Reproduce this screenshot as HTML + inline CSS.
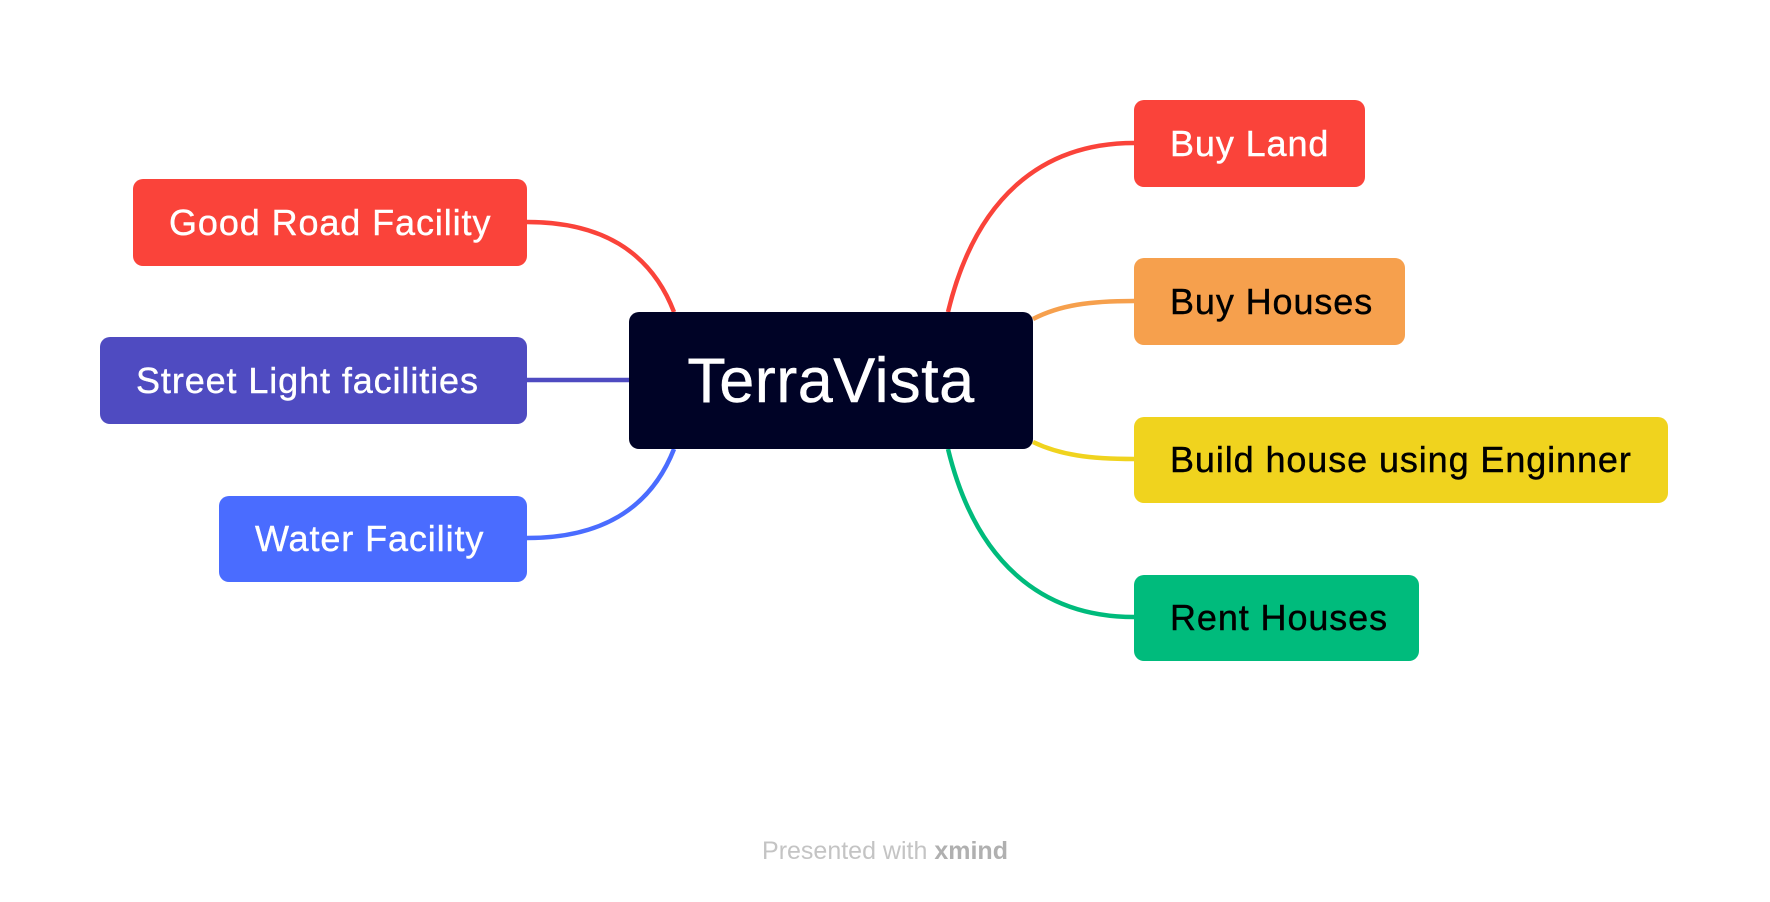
<!DOCTYPE html>
<html><head><style>
body{margin:0;width:1770px;height:902px;background:#fff;position:relative;overflow:hidden;font-family:"Liberation Sans",sans-serif}
.n{position:absolute;border-radius:10px;box-sizing:border-box;display:flex;align-items:center;font-size:36px;letter-spacing:0.9px;padding-left:36px;white-space:nowrap;-webkit-text-stroke:0.4px currentColor}
svg{position:absolute;left:0;top:0}
</style></head><body>
<svg width="1770" height="902" fill="none" stroke-width="4.5">
<path d="M527 222 C600 222 650 250 674 312" stroke="#fa433a"/>
<path d="M527 380 L629 380" stroke="#4f4bc1"/>
<path d="M527 538 C600 538 650 510 674 449" stroke="#4a6cff"/>
<path d="M948 312 C975 200 1040 143 1134 143" stroke="#fa433a"/>
<path d="M1033 319 C1060 305 1090 301 1134 301" stroke="#f6a04d"/>
<path d="M1033 442 C1060 455 1090 459 1134 459" stroke="#f0d31e"/>
<path d="M948 449 C975 560 1040 617 1134 617" stroke="#00bb7c"/>
</svg>
<div class="n" style="left:629px;top:312px;width:404px;height:137px;background:#000326;color:#fff;font-size:63px;letter-spacing:0.5px;justify-content:center;padding-left:0">TerraVista</div>
<div class="n" style="left:133px;top:179px;width:394px;height:87px;background:#fa433a;color:#fff">Good Road Facility</div>
<div class="n" style="left:100px;top:337px;width:427px;height:87px;background:#4f4bc1;color:#fff">Street Light facilities</div>
<div class="n" style="left:219px;top:496px;width:308px;height:86px;background:#4a6cff;color:#fff">Water Facility</div>
<div class="n" style="left:1134px;top:100px;width:231px;height:87px;background:#fa433a;color:#fff">Buy Land</div>
<div class="n" style="left:1134px;top:258px;width:271px;height:87px;background:#f6a04d;color:#000">Buy Houses</div>
<div class="n" style="left:1134px;top:417px;width:534px;height:86px;background:#f0d31e;color:#000">Build house using Enginner</div>
<div class="n" style="left:1134px;top:575px;width:285px;height:86px;background:#00bb7c;color:#000">Rent Houses</div>
<div style="position:absolute;left:0;width:1770px;top:837px;text-align:center;font-size:25px;color:#c4c4c4">Presented with <b style="color:#b0b0b0">xmind</b></div>
</body></html>
